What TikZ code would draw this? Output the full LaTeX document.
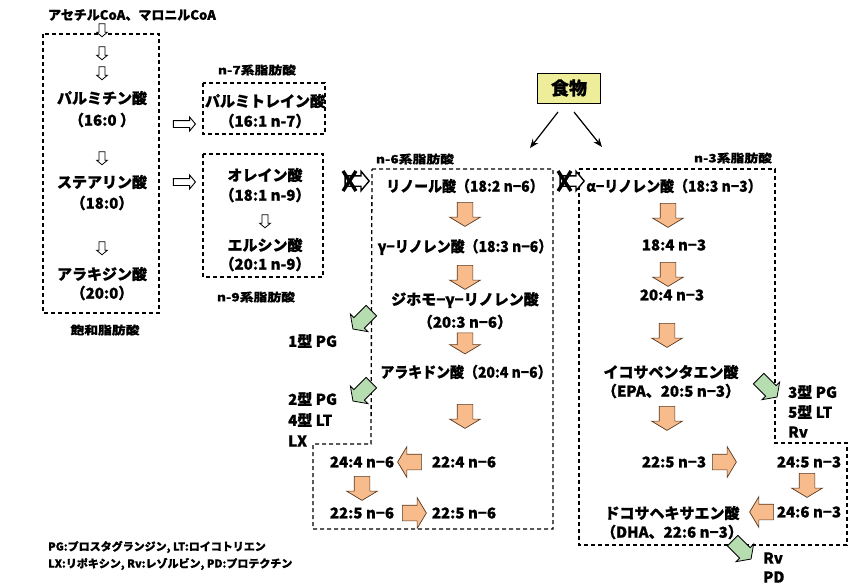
\documentclass[tikz,border=0pt]{standalone}
\usepackage{fontspec}
\usepackage{graphicx}
\setmainfont{Noto Sans CJK JP}[BoldFeatures={FakeBold=0.8}]
\newfontfamily\serfont{Noto Sans CJK JP}[FakeStretch=1.2,BoldFeatures={FakeBold=0.6}]
\newcommand{\narrowtxt}[1]{\scalebox{0.93}[1]{#1}}
\usetikzlibrary{shapes.arrows,arrows.meta}
\definecolor{orfill}{HTML}{F8BC8C}
\definecolor{ordraw}{HTML}{5A3A22}
\definecolor{grfill}{HTML}{B5DDB0}
\definecolor{foodfill}{HTML}{EEEE9A}
\begin{document}
\begin{tikzpicture}[x=1pt,y=-1pt,
  lbl/.style={font=\bfseries\fontsize{15}{17}\selectfont, inner sep=0},
  ser/.style={font=\serfont\bfseries\fontsize{11.5}{13}\selectfont, inner sep=0},
  side/.style={font=\bfseries\fontsize{15}{17}\selectfont, inner sep=0, anchor=west},
  legend/.style={font=\bfseries\fontsize{11}{13}\selectfont, inner sep=0, anchor=west},
  dbox/.style={draw, line width=1.3pt, dash pattern=on 4pt off 3pt},
  oarr/.style={single arrow, draw=ordraw, fill=orfill, line width=0.7pt, minimum height=24pt, inner xsep=0pt, inner ysep=7.5pt, single arrow head extend=7.5pt, single arrow tip angle=118},
  warr/.style={single arrow, draw, fill=white, line width=0.8pt, minimum height=13pt, inner xsep=0pt, inner ysep=2.6pt, single arrow head extend=2.4pt, single arrow tip angle=100},
  wrarr/.style={single arrow, draw, fill=white, line width=0.9pt, minimum height=22pt, inner xsep=0pt, inner ysep=3pt, single arrow head extend=3.5pt, single arrow tip angle=100},
  xarr/.style={single arrow, draw, fill=white, line width=1.4pt, minimum height=24pt, inner xsep=0pt, inner ysep=4.5pt, single arrow head extend=4.5pt, single arrow tip angle=100},
  xmark/.style={line width=3.4pt},
  garr/.style={single arrow, draw, fill=grfill, line width=0.8pt, minimum height=26pt, inner xsep=0pt, inner ysep=7pt, single arrow head extend=5pt, single arrow tip angle=110},
  food/.style={draw, fill=foodfill, line width=0.8pt, minimum width=63pt, minimum height=30pt, font=\bfseries\fontsize{18}{20}\selectfont, inner sep=0},
  farr/.style={line width=1.2pt, -{Stealth[length=9pt,width=7pt]}}
]
\useasboundingbox (0,0) rectangle (855,587);
\fill[white] (0,0) rectangle (855,587);

% ---------- saturated column ----------
\node[lbl, font=\bfseries\fontsize{13}{15}\selectfont] (acoa) at (132,15) {アセチルCoA、マロニルCoA};
\draw[dbox] (43,34) rectangle (159,313);
\node[warr, rotate=-90] (w1) at (102,29) {};
\node[warr, rotate=-90] (w2) at (102,52) {};
\node[warr, rotate=-90] (w3) at (102,72) {};
\node[lbl] (palm) at (102,98) {パルミチン酸};
\node[lbl] (palmn) at (102,120) {（16:0 ）};
\node[warr, rotate=-90] (w4) at (102,157) {};
\node[lbl] (stea) at (102,182) {ステアリン酸};
\node[lbl] (stean) at (102,203) {（18:0）};
\node[warr, rotate=-90] (w5) at (102,247) {};
\node[lbl] (arac) at (102,274) {アラキジン酸};
\node[lbl] (aracn) at (102,293) {（20:0）};
\node[ser] (satl) at (105,330) {飽和脂肪酸};

% ---------- n-7 / n-9 ----------
\node[ser] (n7l) at (257,70) {n-7系脂肪酸};
\draw[dbox] (203,83) rectangle (325,134);
\node[lbl] (palo) at (265,101) {パルミトレイン酸};
\node[lbl] (palon) at (265,121) {（16:1 n-7）};
\node[wrarr] (r1) at (183,124) {};
\node[wrarr] (r2) at (183,182) {};
\draw[dbox] (203,154) rectangle (323,277);
\node[lbl] (olei) at (265,175) {オレイン酸};
\node[lbl] (oleim) at (265,195) {（18:1 n-9）};
\node[warr, rotate=-90] (w6) at (265,220) {};
\node[lbl] (eruc) at (265,245) {エルシン酸};
\node[lbl] (erucn) at (265,264) {（20:1 n-9）};
\node[ser] (n9l) at (256,297) {n-9系脂肪酸};

% ---------- food ----------
\node[food] (food) at (569,88) {食物};
\coordinate (fa1) at (558,112);
\coordinate (fb1) at (530,148);
\coordinate (fa2) at (574,112);
\coordinate (fb2) at (602,147);
\draw[farr] (fa1) -- (fb1);
\draw[farr] (fa2) -- (fb2);

% ---------- n-6 ----------
\node[ser] (n6l) at (415,159) {n-6系脂肪酸};
\draw[dbox] (372,169) -- (553,169) -- (553,529) -- (313,529) -- (313,444) -- (371,444) -- cycle;
\node[xarr] (x1) at (355,181) {};
\draw[xmark] ([shift={(-12,-10)}]x1.center) -- ([shift={(1,10)}]x1.center);
\draw[xmark] ([shift={(-12,10)}]x1.center) -- ([shift={(1,-10)}]x1.center);
\node[lbl] (lino) at (465,186) {\narrowtxt{リノール酸（18:2 n−6）}};
\node[oarr, rotate=-90] (o1) at (465,212) {};
\node[lbl] (glin) at (465,247) {\narrowtxt{γ−リノレン酸（18:3 n−6）}};
\node[oarr, rotate=-90] (o2) at (465,275) {};
\node[lbl] (dgla) at (465,300) {ジホモ−γ−リノレン酸};
\node[lbl] (dglan) at (465,322) {（20:3 n−6）};
\node[oarr, rotate=-90, minimum height=21pt] (o3) at (465,341) {};
\node[lbl] (arach) at (466,372) {\narrowtxt{アラキドン酸（20:4 n−6）}};
\node[oarr, rotate=-90] (o4) at (465,414) {};
\node[lbl] (a244) at (362,462) {24:4 n−6};
\node[oarr, rotate=180] (o5) at (412,462) {};
\node[lbl] (a224) at (464,462) {22:4 n−6};
\node[oarr, rotate=-90] (o6) at (362,486) {};
\node[lbl] (a225) at (362,513) {22:5 n−6};
\node[oarr] (o7) at (412,513) {};
\node[lbl] (b225) at (464,513) {22:5 n−6};
\node[garr, rotate=-135] (g1) at (364,318) {};
\node[garr, rotate=-135] (g2) at (364,390) {};
\node[side] (pg1) at (288,341) {1型 PG};
\node[side] (pg2) at (288,399) {2型 PG};
\node[side] (lt4) at (288,420) {4型 LT};
\node[side] (lx) at (288,441) {LX};

% ---------- n-3 ----------
\node[ser] (n3l) at (733,158) {n-3系脂肪酸};
\draw[dbox] (579,169) -- (775,169) -- (775,443) -- (847,443) -- (847,545) -- (579,545) -- cycle;
\node[xarr] (x2) at (570,181) {};
\draw[xmark] ([shift={(-12,-10)}]x2.center) -- ([shift={(1,10)}]x2.center);
\draw[xmark] ([shift={(-12,10)}]x2.center) -- ([shift={(1,-10)}]x2.center);
\node[lbl] (alin) at (674,186) {\narrowtxt{α−リノレン酸（18:3 n−3）}};
\node[oarr, rotate=-90] (p1) at (668,213) {};
\node[lbl] (c184) at (674,245) {18:4 n−3};
\node[oarr, rotate=-90] (p2) at (668,272) {};
\node[lbl] (c204) at (672,295) {20:4 n−3};
\node[oarr, rotate=-90] (p3) at (667,333) {};
\node[lbl] (epa) at (671,372) {イコサペンタエン酸};
\node[lbl] (epan) at (671,391) {（EPA、20:5 n−3）};
\node[oarr, rotate=-90] (p4) at (667,416) {};
\node[lbl] (c225) at (674,462) {22:5 n−3};
\node[oarr] (p5) at (722,462) {};
\node[lbl] (c245) at (809,462) {24:5 n−3};
\node[oarr, rotate=-90] (p6) at (807,483) {};
\node[lbl] (c246) at (809,512) {24:6 n−3};
\node[oarr, rotate=180] (p7) at (764,512) {};
\node[lbl] (dha) at (672,513) {ドコサヘキサエン酸};
\node[lbl] (dhan) at (672,532) {（DHA、22:6 n−3）};
\node[garr, rotate=-45] (g3) at (766,386) {};
\node[garr, rotate=-45] (g4) at (740,548) {};
\node[side] (pg3) at (788,392) {3型 PG};
\node[side] (lt5) at (788,412) {5型 LT};
\node[side] (rv1) at (788,432) {Rv};
\node[side] (rv2) at (763,558) {Rv};
\node[side] (pd) at (763,577) {PD};

% ---------- legend ----------
\node[legend] (leg1) at (48,547) {PG:プロスタグランジン, LT:ロイコトリエン};
\node[legend] (leg2) at (48,564) {LX:リポキシン, Rv:レゾルビン, PD:プロテクチン};
\end{tikzpicture}
\end{document}
